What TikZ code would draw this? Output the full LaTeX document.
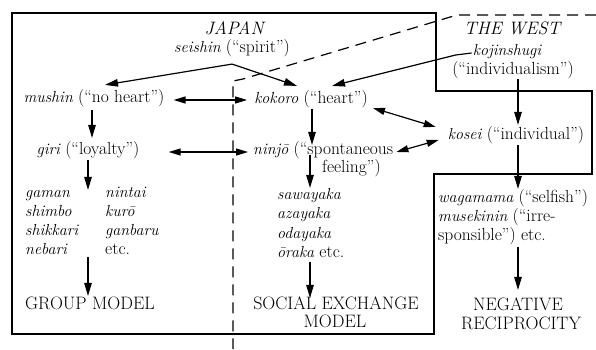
\documentclass[tikz,border=0pt]{standalone}
\usepackage{fontspec}
\usetikzlibrary{arrows.meta}
\newcommand{\jp}[1]{{\fontsize{16}{18}\selectfont\itshape #1}}
\begin{document}
\begin{tikzpicture}[x=1pt,y=-1pt,
  txt/.style={inner sep=1pt, text height=1.5ex, text depth=.3ex, font=\fontsize{17.5}{19}\selectfont},
  captxt/.style={inner sep=1pt, text height=1.5ex, text depth=.3ex, font=\fontsize{18}{19}\selectfont},
  lst/.style={txt, anchor=west},
  arr/.style={-{Triangle[length=13pt,width=7.5pt]}, line width=1.2pt},
  darr/.style={{Triangle[length=12pt,width=7pt]}-{Triangle[length=12pt,width=7pt]}, line width=1.2pt},
  frame/.style={line width=1.2pt},
  divide/.style={line width=1.2pt, dash pattern=on 11pt off 7pt}]
\useasboundingbox (0,0) rectangle (596,349);
% frames
\draw[frame] (12,13) -- (436,13) -- (436,91) -- (592,91) -- (592,174) -- (434,174) -- (434,334) -- (12,334) -- cycle;
\draw[divide] (596,15) -- (457,15) -- (243,79) -- (233,81) -- (233,349);
% texts
\node[captxt] (japan) at (235,32) {\textit{JAPAN}};
\node[txt] (seishin) at (232,50) {\jp{seishin} (“spirit”)};
\node[captxt] (west) at (513,32) {\textit{THE WEST}};
\node[txt] (kojin) at (507,53) {\jp{kojinshugi}};
\node[txt] (indiv) at (513,72) {(“individualism”)};
\node[txt] (mushin) at (94,100) {\jp{mushin} (“no heart”)};
\node[txt] (kokoro) at (311,101) {\jp{kokoro} (“heart”)};
\node[txt] (giri) at (88,152) {\jp{giri} (“loyalty”)};
\node[lst] (ninjo) at (252,152) {\jp{ninjō} (“spontaneous};
\node[lst] (feeling) at (321,170) {feeling”)};
\node[txt] (kosei) at (516,137) {\jp{kosei} (“individual”)};
\node[lst] (gaman) at (24,195) {\jp{gaman}};
\node[lst] (shimbo) at (24,214) {\jp{shimbo}};
\node[lst] (shikkari) at (24,233) {\jp{shikkari}};
\node[lst] (nebari) at (24,252) {\jp{nebari}};
\node[lst] (nintai) at (104,195) {\jp{nintai}};
\node[lst] (kuro) at (104,214) {\jp{kurō}};
\node[lst] (ganbaru) at (104,233) {\jp{ganbaru}};
\node[lst] (etc1) at (104,252) {etc.};
\node[lst] (sawayaka) at (276,197) {\jp{sawayaka}};
\node[lst] (azayaka) at (276,216) {\jp{azayaka}};
\node[lst] (odayaka) at (276,236) {\jp{odayaka}};
\node[lst] (oraka) at (276,255) {\jp{ōraka} etc.};
\node[lst] (wagamama) at (437,200) {\jp{wagamama} (“selfish”)};
\node[lst] (musekinin) at (437,219) {\jp{musekinin} (“irre-};
\node[lst] (sponsible) at (437,238) {sponsible”) etc.};
\node[captxt] (group) at (90,307) {GROUP MODEL};
\node[captxt] (social) at (336,307) {SOCIAL EXCHANGE};
\node[captxt] (model) at (335,325) {MODEL};
\node[captxt] (negative) at (518,308) {NEGATIVE};
\node[captxt] (recip) at (521,327) {RECIPROCITY};
% connectors
\coordinate (split) at ([yshift=-9pt]seishin.south);
\draw[arr] (split) -- ([xshift=11pt,yshift=10pt]mushin.north);
\draw[arr] (split) -- ([xshift=-14pt,yshift=10pt]kokoro.north);
\coordinate (kbend) at ([xshift=-16pt,yshift=-2pt]kojin.west);
\draw[arr] (kojin.west) -- (kbend) -- ([xshift=21pt,yshift=10pt]kokoro.north);
\draw[darr] ([xshift=8pt]mushin.east) -- ([xshift=-6pt]kokoro.west |- mushin.east);
\draw[darr] ([xshift=28pt]giri.east) -- ([xshift=-4pt]ninjo.west);
\draw[arr] ([xshift=-2pt,yshift=-5pt]mushin.south) -- ([xshift=-2pt,yshift=9pt]mushin.south |- giri.north);
\draw[arr] ([xshift=1pt,yshift=-3pt]kokoro.south) -- ([xshift=1pt,yshift=2pt]kokoro.south |- ninjo.north);
\draw[darr] ([xshift=4pt,yshift=-7pt]kokoro.east) -- ([xshift=-11pt,yshift=10pt]kosei.west);
\draw[darr] ([xshift=2pt]ninjo.east) -- ([xshift=-8pt,yshift=-3pt]kosei.west);
\draw[arr] ([xshift=5pt,yshift=-2pt]indiv.south) -- ([xshift=5pt,yshift=7pt]indiv.south |- kosei.north);
\draw[arr] ([xshift=2pt,yshift=-3pt]kosei.south) -- ([xshift=2pt,yshift=6pt]kosei.south |- wagamama.north);
\draw[arr] ([yshift=-3pt]giri.south) -- (giri.south |- gaman.north);
\draw[arr] (giri.south |- nebari.south) -- ([xshift=-2pt,yshift=6pt]group.north);
\draw[arr] ([xshift=-1pt,yshift=2pt]kokoro.south |- ninjo.south) -- ([xshift=-1pt,yshift=4pt]kokoro.south |- sawayaka.north);
\draw[arr] ([xshift=-1pt,yshift=-2pt]kokoro.south |- oraka.south) -- ([xshift=-1pt,yshift=4pt]kokoro.south |- social.north);
\draw[arr] ([xshift=2pt,yshift=-4pt]kosei.south |- sponsible.south) -- ([xshift=2pt,yshift=13pt]kosei.south |- negative.north);
\end{tikzpicture}
\end{document}
